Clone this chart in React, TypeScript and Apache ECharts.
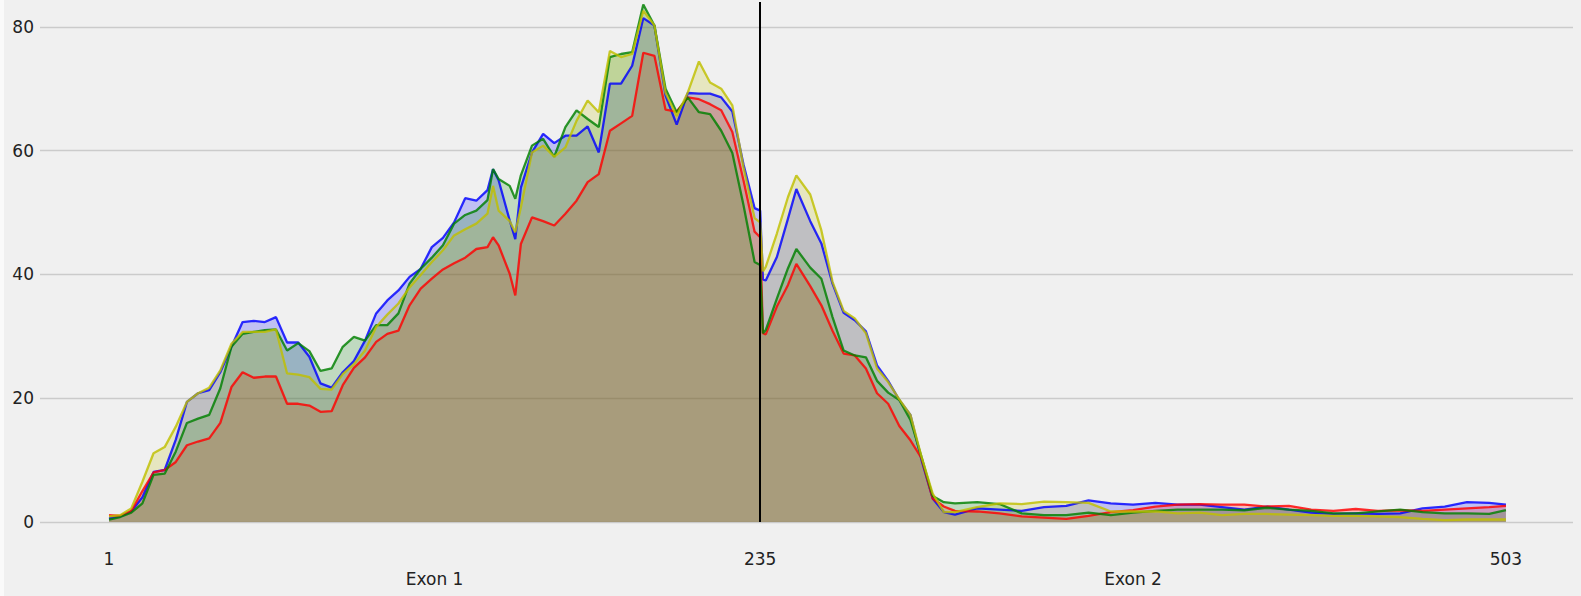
import React, { useEffect, useRef } from "react";
import * as echarts from "echarts";

// Sample positions along the transcript (x values)
const positions = [
  1, 5, 9, 13, 17, 21, 25, 29, 33, 37, 41, 45, 49, 53, 57, 61, 65, 69, 73, 77, 81, 85, 89, 93, 97, 101, 105, 109, 113, 117, 121, 125, 129, 133, 137,
  139, 141, 145, 147, 149,
  153, 157, 161, 165, 169, 173, 177, 181, 185, 189, 193, 197, 201, 205, 209, 213, 217, 221, 225, 229, 233,
  235, 236, 237, 241, 245, 248,
  253, 257, 261, 265, 269, 273, 277, 281, 285, 289, 293, 297, 301, 305,
  313, 321, 329, 337, 345, 353, 361, 369, 377, 385, 393, 401, 409, 417, 425, 433, 441, 449, 457, 465, 473, 481, 489, 497,
  503,
];

const blue = [
  0.6, 0.9, 1.7, 4.0, 8.1, 8.4, 13.3, 19.4, 20.8, 21.3, 24.2, 28.3, 32.3, 32.5, 32.3, 33.1, 29.0, 29.0, 26.7, 22.4, 21.7, 24.2, 26.0, 29.3, 33.7, 35.8, 37.4, 39.6, 40.9, 44.4, 45.9, 48.4, 52.3, 51.9, 53.6,
  57.0, 55.2, 48.7, 45.7, 54.0,
  59.7, 62.7, 61.2, 62.4, 62.4, 63.9, 59.7, 70.8, 70.8, 73.7, 81.4, 80.2, 68.9, 64.2, 69.3, 69.2, 69.2, 68.6, 66.3, 57.8, 50.7,
  50.3, 39.2, 39.0, 42.8, 49.0, 53.8,
  48.6, 45.0, 38.5, 33.8, 32.6, 30.8, 25.3, 22.8, 19.7, 17.3, 10.0, 3.8, 1.6, 1.2,
  2.2, 2.0, 1.8, 2.4, 2.6, 3.5, 3.0, 2.8, 3.1, 2.8, 2.8, 2.4, 2.0, 2.5, 2.0, 1.5, 1.3, 1.4, 1.3, 1.4, 2.2, 2.5, 3.2, 3.1,
  2.8,
];

const green = [
  0.4, 0.8, 1.5, 3.0, 7.6, 7.8, 11.4, 16.0, 16.7, 17.3, 21.6, 28.3, 30.4, 30.7, 31.0, 31.1, 27.7, 28.9, 27.6, 24.4, 24.8, 28.3, 29.9, 29.3, 31.8, 31.8, 33.7, 38.5, 40.9, 42.7, 44.7, 48.2, 49.6, 50.3, 52.0,
  57.0, 55.4, 54.3, 52.2, 56.0,
  60.8, 61.9, 59.0, 63.8, 66.5, 65.1, 63.8, 75.1, 75.6, 75.9, 83.6, 80.2, 70.0, 66.2, 68.6, 66.2, 65.9, 63.2, 59.6, 51.2, 42.0,
  41.5, 30.5, 31.0, 36.1, 41.0, 44.1,
  41.1, 39.3, 33.1, 27.7, 26.9, 26.6, 22.8, 20.9, 19.7, 16.5, 10.5, 4.2, 3.2, 3.0,
  3.2, 2.9, 1.4, 1.1, 1.1, 1.5, 1.1, 1.5, 1.8, 2.0, 2.0, 2.0, 1.9, 2.3, 2.0, 1.8, 1.4, 1.4, 1.7, 2.0, 1.6, 1.4, 1.4, 1.3,
  1.9,
];

const yellow = [
  0.9, 1.1, 2.2, 6.5, 11.1, 12.1, 15.4, 19.4, 20.8, 21.7, 24.5, 28.8, 30.7, 30.7, 30.7, 31.1, 24.0, 23.8, 23.4, 21.5, 21.4, 23.9, 25.5, 27.7, 31.5, 33.5, 35.3, 37.9, 39.9, 42.0, 43.9, 46.3, 47.3, 48.2, 49.8,
  54.3, 50.3, 48.6, 46.8, 50.8,
  59.7, 60.8, 59.0, 60.5, 64.8, 68.1, 66.2, 76.1, 75.1, 75.6, 82.6, 80.2, 69.3, 65.6, 69.4, 74.4, 71.0, 70.0, 67.3, 57.3, 49.1,
  48.4, 40.5, 41.2, 46.6, 52.5, 56.0,
  52.9, 47.1, 38.8, 34.1, 32.9, 30.5, 24.8, 22.6, 19.8, 17.3, 10.5, 4.6, 1.6, 1.6,
  2.4, 3.0, 2.9, 3.3, 3.2, 3.1, 1.7, 1.7, 1.7, 1.4, 1.5, 1.1, 1.3, 1.3, 1.2, 1.1, 1.0, 1.0, 0.9, 0.8, 0.5, 0.3, 0.4, 0.4,
  0.4,
];

const red = [
  1.1, 1.0, 1.8, 5.0, 8.0, 8.4, 9.7, 12.4, 13.0, 13.5, 16.0, 21.8, 24.2, 23.3, 23.5, 23.5, 19.1, 19.1, 18.8, 17.8, 17.9, 22.1, 24.9, 26.6, 29.1, 30.4, 30.9, 35.0, 37.7, 39.3, 40.8, 41.8, 42.7, 44.1, 44.4,
  46.0, 44.7, 40.1, 36.6, 44.9,
  49.2, 48.6, 47.9, 49.8, 51.9, 54.9, 56.2, 63.2, 64.4, 65.6, 75.8, 75.3, 66.6, 66.3, 68.6, 68.3, 67.5, 66.5, 63.0, 55.2, 46.9,
  46.0, 30.5, 30.3, 34.8, 38.3, 41.7,
  38.1, 35.0, 30.9, 27.2, 26.9, 24.8, 20.8, 19.1, 15.5, 13.2, 10.3, 3.8, 2.5, 1.8,
  1.7, 1.4, 0.9, 0.7, 0.5, 1.0, 1.6, 1.9, 2.5, 2.8, 2.9, 2.8, 2.8, 2.5, 2.6, 2.0, 1.8, 2.1, 1.8, 1.9, 1.8, 2.0, 2.2, 2.4,
  2.6,
];

const exonBoundaries = [1, 235, 503];
const exonNames = ["Exon 1", "Exon 2"];
const exonJunction = 235;
const yTicks = [0, 20, 40, 60, 80];

const seriesDefs = [
  { name: "blue", values: blue, color: "#0000ff" },
  { name: "red", values: red, color: "#ff0000" },
  { name: "green", values: green, color: "#008000" },
  { name: "yellow", values: yellow, color: "#bfbf00" },
];

const FONT = "'DejaVu Sans', sans-serif";

export default function App() {
  const ref = useRef<HTMLDivElement>(null);

  useEffect(() => {
    document.body.style.margin = "0";
    if (!ref.current) return;
    const chart = echarts.init(ref.current, undefined, { renderer: "svg" });

    const exonMids = exonNames.map((_, i) => (exonBoundaries[i] + exonBoundaries[i + 1]) / 2);

    const areaSeries = seriesDefs.map((s) => ({
      name: s.name + "-area",
      type: "line",
      data: positions.map((x, i) => [x, s.values[i]]),
      symbol: "none",
      showSymbol: false,
      silent: true,
      z: 1,
      lineStyle: { width: 0, opacity: 0 },
      itemStyle: { color: s.color },
      areaStyle: { color: s.color, opacity: 0.2 },
    }));

    const lineSeries = seriesDefs.map((s, idx) => ({
      name: s.name,
      type: "line",
      data: positions.map((x, i) => [x, s.values[i]]),
      symbol: "none",
      showSymbol: false,
      silent: true,
      z: 2,
      lineStyle: { color: s.color, width: 2.3, opacity: 0.82 },
      itemStyle: { color: s.color },
      ...(idx === seriesDefs.length - 1
        ? {
            markLine: {
              silent: true,
              symbol: ["none", "none"],
              label: { show: false },
              lineStyle: { color: "#000000", width: 2, type: "solid", opacity: 1 },
              data: [{ xAxis: exonJunction }],
              z: 10,
            },
          }
        : {}),
    }));

    chart.setOption({
      animation: false,
      backgroundColor: "#f0f0f0",
      textStyle: { fontFamily: FONT },
      grid: {
        left: 36,
        right: 8,
        top: 2,
        bottom: 74,
        containLabel: false,
        outerBoundsMode: "none",
      },
      xAxis: [
        {
          type: "value",
          min: -23.8,
          max: 527.1,
          position: "bottom",
          axisLine: { show: false },
          axisTick: { show: false },
          splitLine: { show: false },
          axisLabel: {
            customValues: exonBoundaries,
            formatter: (v: number) => String(v),
            margin: 28,
            fontSize: 17,
            lineHeight: 17,
            color: "#222222",
            fontFamily: FONT,
          },
        },
        {
          type: "value",
          min: -23.8,
          max: 527.1,
          position: "bottom",
          gridIndex: 0,
          axisLine: { show: false },
          axisTick: { show: false },
          splitLine: { show: false },
          axisLabel: {
            customValues: exonMids,
            formatter: (v: number) => {
              const i = exonMids.findIndex((m) => Math.abs(m - v) < 1e-6);
              return i >= 0 ? exonNames[i] : "";
            },
            margin: 48,
            fontSize: 17,
            lineHeight: 17,
            color: "#222222",
            fontFamily: FONT,
          },
        },
      ],
      yAxis: {
        type: "value",
        min: 0,
        max: 84,
        interval: 20,
        axisLine: { show: false },
        axisTick: { show: false },
        axisLabel: {
          customValues: yTicks,
          margin: 6,
          fontSize: 17,
          color: "#222222",
          fontFamily: FONT,
        },
        splitLine: {
          show: true,
          showMaxLine: false,
          lineStyle: { color: "#cbcbcb", width: 1.3 },
        },
      },
      series: [...areaSeries, ...lineSeries],
    });

    return () => chart.dispose();
  }, []);

  return (
    <div
      style={{
        position: "absolute",
        left: 0,
        top: 0,
        width: 1581,
        height: 596,
        background: "#fafafa",
      }}
    >
      <div
        ref={ref}
        style={{ position: "absolute", left: 4, top: 0, width: 1577, height: 596 }}
      />
    </div>
  );
}
